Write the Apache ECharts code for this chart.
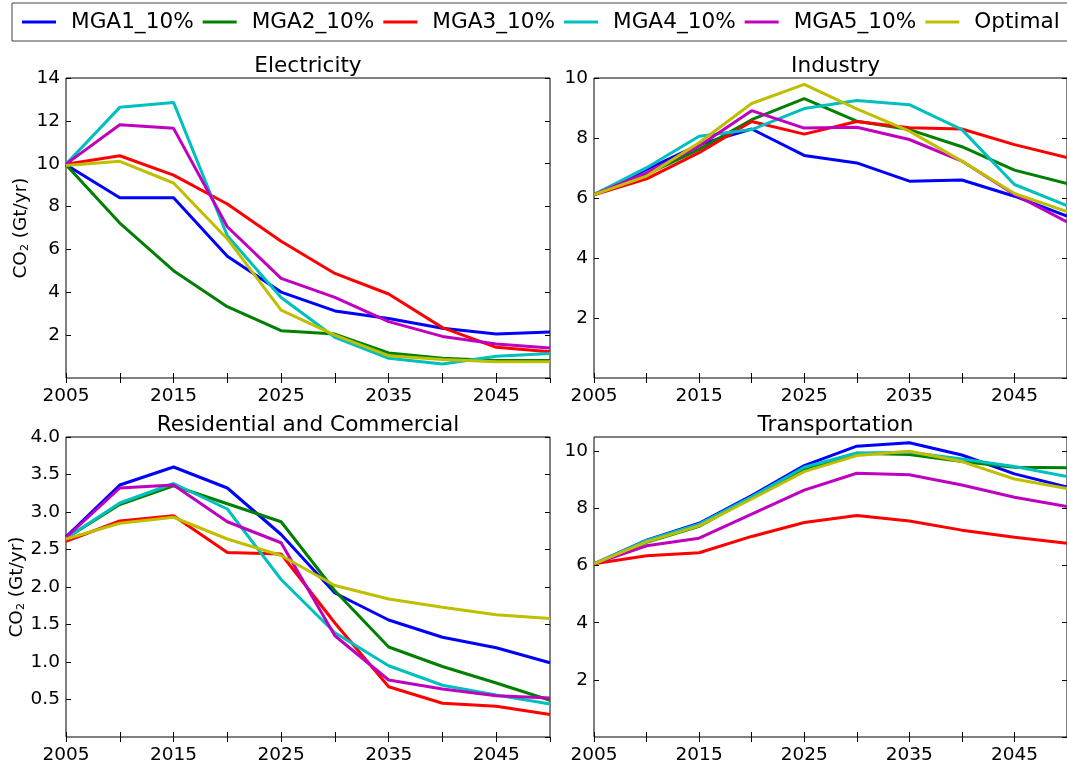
<!DOCTYPE html>
<html>
<head>
<meta charset="utf-8">
<script src="https://cdn.jsdelivr.net/npm/echarts@6/dist/echarts.min.js"></script>
<style>
  html, body { margin: 0; padding: 0; background: #fff; }
  #chart { width: 1067px; height: 765px; }
</style>
</head>
<body>
<div id="chart"></div>
<script>
// Years on the x axis (one point every 5 years)
const years = [2005, 2010, 2015, 2020, 2025, 2030, 2035, 2040, 2045, 2050];
const scenarioNames = ['MGA1_10%', 'MGA2_10%', 'MGA3_10%', 'MGA4_10%', 'MGA5_10%', 'Optimal'];
const panelTitles = ['Electricity', 'Industry', 'Residential and Commercial', 'Transportation'];
const yAxisTitle = 'CO{sub|2} (Gt/yr)';

// Electricity CO2 (Gt/yr)
const elecMGA1 = [9.95, 8.41, 8.41, 5.68, 4.01, 3.13, 2.78, 2.32, 2.05, 2.15];
const elecMGA2 = [9.95, 7.23, 5.01, 3.33, 2.21, 2.05, 1.17, 0.92, 0.82, 0.82];
const elecMGA3 = [9.98, 10.37, 9.47, 8.12, 6.38, 4.88, 3.92, 2.35, 1.43, 1.23];
const elecMGA4 = [9.98, 12.63, 12.86, 6.64, 3.76, 1.90, 0.92, 0.65, 1.01, 1.14];
const elecMGA5 = [9.98, 11.82, 11.65, 7.06, 4.65, 3.76, 2.63, 1.94, 1.59, 1.40];
const elecOptimal = [9.92, 10.11, 9.10, 6.49, 3.17, 2.00, 1.04, 0.86, 0.76, 0.76];

// Industry CO2 (Gt/yr)
const indMGA1 = [6.11, 6.95, 7.78, 8.30, 7.42, 7.17, 6.56, 6.60, 6.06, 5.40];
const indMGA2 = [6.11, 6.79, 7.62, 8.61, 9.31, 8.56, 8.28, 7.71, 6.93, 6.48];
const indMGA3 = [6.11, 6.64, 7.51, 8.55, 8.13, 8.55, 8.34, 8.30, 7.78, 7.35];
const indMGA4 = [6.11, 7.01, 8.06, 8.28, 8.98, 9.25, 9.11, 8.28, 6.45, 5.75];
const indMGA5 = [6.11, 6.84, 7.73, 8.91, 8.33, 8.36, 7.95, 7.23, 6.12, 5.20];
const indOptimal = [6.11, 6.73, 7.84, 9.15, 9.79, 8.97, 8.23, 7.23, 6.15, 5.55];

// Residential and commercial CO2 (Gt/yr)
const resMGA1 = [2.67, 3.36, 3.60, 3.32, 2.70, 1.92, 1.56, 1.33, 1.19, 0.99];
const resMGA2 = [2.65, 3.10, 3.35, 3.11, 2.87, 1.95, 1.20, 0.94, 0.72, 0.49];
const resMGA3 = [2.61, 2.88, 2.95, 2.46, 2.44, 1.52, 0.67, 0.45, 0.41, 0.30];
const resMGA4 = [2.65, 3.12, 3.38, 3.04, 2.10, 1.39, 0.95, 0.69, 0.56, 0.44];
const resMGA5 = [2.66, 3.32, 3.36, 2.87, 2.59, 1.35, 0.76, 0.64, 0.55, 0.52];
const resOptimal = [2.64, 2.85, 2.93, 2.64, 2.42, 2.02, 1.84, 1.73, 1.63, 1.58];

// Transportation CO2 (Gt/yr)
const transMGA1 = [6.06, 6.89, 7.48, 8.45, 9.50, 10.18, 10.30, 9.87, 9.21, 8.75];
const transMGA2 = [6.06, 6.81, 7.37, 8.39, 9.38, 9.93, 9.89, 9.64, 9.44, 9.42];
const transMGA3 = [6.06, 6.34, 6.45, 7.02, 7.51, 7.75, 7.56, 7.24, 6.99, 6.78];
const transMGA4 = [6.06, 6.88, 7.45, 8.41, 9.44, 9.94, 9.97, 9.73, 9.47, 9.12];
const transMGA5 = [6.06, 6.69, 6.96, 7.80, 8.64, 9.23, 9.18, 8.82, 8.39, 8.07];
const transOptimal = [6.06, 6.83, 7.39, 8.33, 9.29, 9.85, 10.00, 9.64, 9.03, 8.70];

const panelData = [
  [elecMGA1, elecMGA2, elecMGA3, elecMGA4, elecMGA5, elecOptimal],
  [indMGA1, indMGA2, indMGA3, indMGA4, indMGA5, indOptimal],
  [resMGA1, resMGA2, resMGA3, resMGA4, resMGA5, resOptimal],
  [transMGA1, transMGA2, transMGA3, transMGA4, transMGA5, transOptimal]
];

// Classic matplotlib line colours b, g, r, c, m, y
const lineColors = ['#0000ff', '#008000', '#ff0000', '#00bfbf', '#bf00bf', '#bfbf00'];

const FONT = 'DejaVu Sans';
const TICK_SIZE = 18.5;
const TITLE_SIZE = 21.6;

// Panel geometry (2 x 2)
const grids = [
  { left: 66, top: 78, width: 484, height: 300 },
  { left: 594, top: 78, width: 483, height: 300 },
  { left: 66, top: 437, width: 484, height: 301 },
  { left: 594, top: 437, width: 483, height: 301 }
];
const yRanges = [
  { min: 0, max: 14, interval: 2, fmt: v => String(v) },
  { min: 0, max: 10, interval: 2, fmt: v => String(v) },
  { min: 0, max: 4, interval: 0.5, fmt: v => v.toFixed(1) },
  { min: 0, max: 10.5, interval: 2, fmt: v => String(v) }
];

const option = {
  backgroundColor: '#ffffff',
  animation: false,
  legend: {
    data: scenarioNames,
    left: 12,
    top: 3,
    width: 1200,
    orient: 'horizontal',
    icon: 'rect',
    itemWidth: 34,
    itemHeight: 3,
    itemGap: 9,
    padding: [8, 40, 8, 10],
    borderColor: '#444',
    borderWidth: 1,
    textStyle: { fontFamily: FONT, fontSize: TITLE_SIZE, color: '#000', padding: [0, 0, 0, 10] }
  },
  title: [],
  grid: [],
  xAxis: [],
  yAxis: [],
  series: []
};

grids.forEach((g, i) => {
  option.grid.push(Object.assign({
    show: true, borderColor: '#000', borderWidth: 1, backgroundColor: '#fff', containLabel: false
  }, g));

  option.title.push({
    text: panelTitles[i],
    left: g.left + g.width / 2,
    top: g.top - 23,
    textAlign: 'center',
    padding: 0,
    textStyle: { fontFamily: FONT, fontSize: TITLE_SIZE, fontWeight: 'normal', color: '#000' }
  });

  const xBase = {
    type: 'value', gridIndex: i, min: 2005, max: 2050, interval: 5,
    axisLine: { show: false },
    splitLine: { show: false },
    axisTick: { show: true, inside: true, length: 5, lineStyle: { color: '#000', width: 1 } }
  };
  // bottom axis with labels every 10 years
  option.xAxis.push(Object.assign({}, xBase, {
    position: 'bottom',
    axisLabel: {
      show: true, margin: 9, fontFamily: FONT, fontSize: TICK_SIZE, color: '#000',
      showMaxLabel: false,
      formatter: v => ((v - 2005) % 10 === 0 ? String(v) : '')
    }
  }));
  // top axis: ticks only
  option.xAxis.push(Object.assign({}, xBase, {
    position: 'top', axisLabel: { show: false }
  }));

  const r = yRanges[i];
  const yBase = {
    type: 'value', gridIndex: i, min: r.min, max: r.max, interval: r.interval,
    axisLine: { show: false },
    splitLine: { show: false },
    axisTick: { show: true, inside: true, length: 5, lineStyle: { color: '#000', width: 1 } }
  };
  const leftAxis = Object.assign({}, yBase, {
    position: 'left',
    axisLabel: {
      show: true, margin: 6, fontFamily: FONT, fontSize: TICK_SIZE, color: '#000',
      showMinLabel: false,
      showMaxLabel: i !== 3,
      formatter: r.fmt
    }
  });
  if (i % 2 === 0) {
    Object.assign(leftAxis, {
      name: yAxisTitle,
      nameLocation: 'middle',
      nameGap: 35,
      nameRotate: 90,
      nameTextStyle: {
        fontFamily: FONT, fontSize: TICK_SIZE, color: '#000',
        rich: { sub: { fontFamily: FONT, fontSize: 11, color: '#000', verticalAlign: 'bottom', padding: [6, 0, 0, 0] } }
      }
    });
  }
  option.yAxis.push(leftAxis);
  option.yAxis.push(Object.assign({}, yBase, { position: 'right', axisLabel: { show: false } }));

  panelData[i].forEach((vals, k) => {
    option.series.push({
      name: scenarioNames[k],
      type: 'line',
      xAxisIndex: i * 2,
      yAxisIndex: i * 2,
      data: years.map((yr, j) => [yr, vals[j]]),
      symbol: 'none',
      smooth: false,
      lineStyle: { color: lineColors[k], width: 3 },
      itemStyle: { color: lineColors[k] },
      clip: true,
      z: 2 + k
    });
  });
});

const chart = echarts.init(document.getElementById('chart'), null, { renderer: 'canvas' });
chart.setOption(option);
</script>
</body>
</html>
